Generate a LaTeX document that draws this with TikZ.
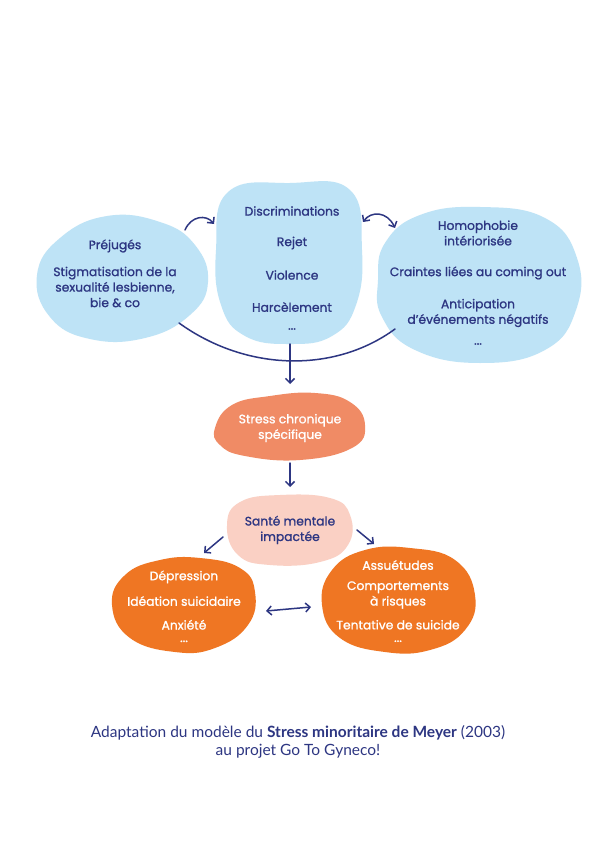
\documentclass[tikz,border=0pt]{standalone}
\usepackage{fontspec}
\setmainfont{Poppins}
\newfontfamily\blobfont{Poppins}[FakeBold=1.2]
\newfontfamily\capfont{Lato}
\usetikzlibrary{arrows.meta}
\definecolor{navy}{HTML}{2D3682}
\definecolor{skyblob}{HTML}{BEE3F6}
\definecolor{salmonblob}{HTML}{F08B65}
\definecolor{pinkblob}{HTML}{FAD0C4}
\definecolor{orangeblob}{HTML}{EF7623}
\tikzset{
  blob/.style={smooth cycle, tension=0.75},
  txt/.style={text=navy, align=center, font=\blobfont\fontsize{12.3}{15.5}\selectfont, inner sep=0pt},
  wtxt/.style={txt, text=white},
  conn/.style={draw=navy, line width=1.5pt, line cap=round, -{Straight Barb[length=4.5pt,width=9pt,line width=1.5pt]}},
  dconn/.style={conn, {Straight Barb[length=4.5pt,width=9pt,line width=1.5pt]}-{Straight Barb[length=4.5pt,width=9pt,line width=1.5pt]}},
  plain/.style={draw=navy, line width=1.5pt, line cap=round},
}
\begin{document}
\begin{tikzpicture}[x=1pt,y=-1pt]
\useasboundingbox (0,0) rectangle (595,842);
\fill[white] (0,0) rectangle (595,842);
% blobs
\fill[skyblob] plot[blob] coordinates {(37,275) (60,238) (107,216) (160,222) (195,245) (208,282) (190,315) (145,338) (90,339) (50,317)};
\fill[skyblob] plot[blob] coordinates {(228,192) (290,183) (350,190) (362,250) (356,305) (332,336) (290,344) (245,336) (221,305) (216,250)};
\fill[skyblob] plot[blob] coordinates {(385,243) (420,215) (480,207) (545,218) (577,258) (576,310) (545,350) (480,363) (415,350) (382,317) (378,280)};
\fill[salmonblob] plot[blob] coordinates {(215,428) (232,405) (270,396) (315,393) (350,402) (365,425) (352,448) (300,460) (245,456) (220,445)};
\fill[pinkblob] plot[blob] coordinates {(227,525) (240,502) (280,495) (330,498) (350,515) (348,545) (320,562) (270,565) (238,555)};
\fill[orangeblob] plot[blob] coordinates {(112,605) (125,575) (160,560) (200,558) (240,568) (255,592) (248,625) (215,648) (175,652) (130,638)};
\fill[orangeblob] plot[blob] coordinates {(322,605) (332,570) (365,550) (410,548) (455,560) (475,595) (465,630) (430,650) (385,652) (340,638)};
% texts
\node[txt] (prej) at (115,246) {Préjugés};
\node[txt] (stig) at (115,287) {Stigmatisation de la\\sexualité lesbienne,\\bie \& co};
\node[txt] (disc) at (292,211) {Discriminations};
\node[txt] (rejet) at (292,243) {Rejet};
\node[txt] (viol) at (292,275) {Violence};
\node[txt] (harc) at (292,307) {Harcèlement};
\node[txt] (dots1) at (292,329) {...};
\node[txt] (homo) at (478,233) {Homophobie\\intériorisée};
\node[txt] (crain) at (478,273) {Craintes liées au coming out};
\node[txt] (antic) at (478,313) {Anticipation\\d’événements négatifs};
\node[txt] (dots2) at (478,344) {...};
\node[wtxt] (stress) at (290,428) {Stress chronique\\spécifique};
\node[txt] (sante) at (290,530) {Santé mentale\\impactée};
\node[wtxt] (depr) at (184,577) {Dépression};
\node[wtxt] (idea) at (184,601) {Idéation suicidaire};
\node[wtxt] (anx) at (184,631) {Anxiété\\[-3pt]...};
\node[wtxt] (assu) at (398,565) {Assuétudes};
\node[wtxt] (comp) at (398,595) {Comportements\\à risques};
\node[wtxt] (tent) at (398,631) {Tentative de suicide\\[-3pt]...};
% caption
\node[text=navy, align=center, font=\capfont\fontsize{15.5}{17.5}\selectfont, inner sep=0pt] (cap) at (298,742)
  {Adaptation du modèle du \textbf{Stress minoritaire de Meyer} (2003)\\au projet Go To Gyneco!};
% connector coordinates
\coordinate (a1s) at (185,230); \coordinate (a1e) at (214,224);
\coordinate (a2s) at (363,222); \coordinate (a2e) at (395,228);
\coordinate (cl) at (179,323); \coordinate (cr) at (395,329);
\coordinate (vtop) at (290,344); \coordinate (vbot) at (290,384);
\coordinate (s1) at (290,463); \coordinate (s2) at (290,487);
\coordinate (m1) at (223,537); \coordinate (m2) at (204,553);
\coordinate (m3) at (357,530); \coordinate (m4) at (374,544);
\coordinate (b1) at (266,611); \coordinate (b2) at (311,607);
% connectors
\draw[conn] (a1s) .. controls (191,216) and (206,214) .. (a1e);
\draw[dconn] (a2s) .. controls (371,211) and (387,211) .. (a2e);
\draw[plain] (cl) .. controls (247,372) and (335,373) .. (cr);
\draw[conn] (vtop) -- (vbot);
\draw[conn] (s1) -- (s2);
\draw[conn] (m1) -- (m2);
\draw[conn] (m3) -- (m4);
\draw[dconn] (b1) -- (b2);
\end{tikzpicture}
\end{document}
